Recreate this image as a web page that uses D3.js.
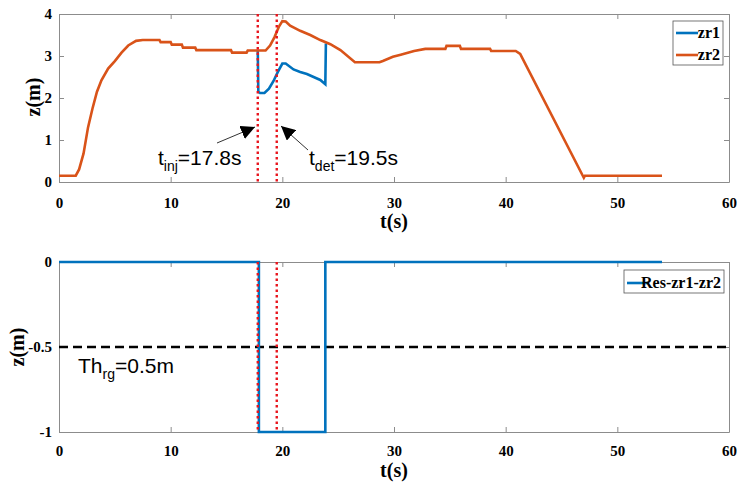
<!DOCTYPE html>
<html>
<head>
<meta charset="utf-8">
<title>zr residual</title>
<style>
  body { margin: 0; background: #fff; }
  .tick text { font-family: "Liberation Serif", "Times New Roman", serif; font-weight: bold; font-size: 15px; fill: #000; }
  .axis path, .axis line { stroke: #8c8c8c; }
  .lab { font-family: "Liberation Serif", "Times New Roman", serif; font-weight: bold; font-size: 20px; }
  .leg { font-family: "Liberation Serif", "Times New Roman", serif; font-weight: bold; font-size: 16px; }
  .ann { font-family: "Liberation Sans", Arial, sans-serif; font-size: 21px; }
</style>
</head>
<body>
<script src="https://cdnjs.cloudflare.com/ajax/libs/d3/7.8.5/d3.min.js"></script>
<script>
// data
var tZr2 = [0,1.5,1.8,2.2,2.6,3.0,3.4,3.8,4.4,5.0,5.6,6.2,6.9,7.5,9.0,9.1,10.0,10.1,11.0,11.1,12.2,12.3,15.4,15.5,16.8,16.9,18.5,18.9,19.3,19.7,20.0,20.3,20.7,21.6,22.5,23.4,24.3,25.2,26.5,28.7,29.0,29.9,30.6,31.4,31.8,32.8,34.6,34.7,35.9,36.0,38.6,38.7,40.9,41.3,47.0,47.1,54.0];
var zr2  = [0.15,0.15,0.3,0.68,1.3,1.75,2.15,2.42,2.7,2.88,3.08,3.25,3.36,3.38,3.38,3.33,3.33,3.27,3.27,3.2,3.2,3.14,3.14,3.08,3.08,3.13,3.13,3.25,3.45,3.7,3.83,3.82,3.72,3.6,3.5,3.38,3.28,3.14,2.85,2.85,2.88,2.98,3.03,3.09,3.12,3.17,3.17,3.24,3.24,3.17,3.17,3.12,3.12,3.05,0.1,0.15,0.15];
var tZr1 = [17.8,17.85,18.0,18.4,18.8,19.2,19.6,20.0,20.3,21.0,21.6,22.2,22.8,23.4,23.85,23.9];
var zr1  = [3.12,2.15,2.12,2.12,2.22,2.4,2.62,2.82,2.82,2.68,2.62,2.57,2.5,2.43,2.33,3.3];
var tRes = [0,17.9,17.9,23.85,23.85,54];
var res  = [0,0,-1,-1,0,0];
var tInj = 17.8, tDet = 19.5, thr = -0.5;
var xTicks = [0,10,20,30,40,50,60];
var yTicksTop = [0,1,2,3,4];
var yTicksBot = [0,-0.5,-1];

var W = 737, H = 489;
var blue = '#0072bd', orange = '#d95319';
var svg = d3.select('body').append('svg').attr('width',W).attr('height',H);

var x = d3.scaleLinear().domain([0,60]).range([59,729]);
var yTop = d3.scaleLinear().domain([0,4]).range([182,14]);
var yBot = d3.scaleLinear().domain([-1,0]).range([432,262]);

function pts(ts, vs){ return ts.map(function(t,i){ return [t, vs[i]]; }); }

function frame(y, yt, fmt, xpad){
  var r = y.range();
  svg.append('g').attr('class','axis').attr('transform','translate(0,'+r[0]+')')
    .call(d3.axisBottom(x).tickValues(xTicks).tickSizeInner(-5).tickSizeOuter(0).tickPadding(xpad).tickFormat(d3.format('d')));
  svg.append('g').attr('class','axis').attr('transform','translate(0,'+r[1]+')')
    .call(d3.axisTop(x).tickValues(xTicks).tickSizeInner(-5).tickSizeOuter(0).tickFormat(''));
  svg.append('g').attr('class','axis').attr('transform','translate(59,0)')
    .call(d3.axisLeft(y).tickValues(yt).tickSizeInner(-5).tickSizeOuter(0).tickPadding(7).tickFormat(fmt));
  svg.append('g').attr('class','axis').attr('transform','translate(729,0)')
    .call(d3.axisRight(y).tickValues(yt).tickSizeInner(-5).tickSizeOuter(0).tickFormat(''));
}

//## top plot
frame(yTop, yTicksTop, d3.format('d'), 15);
var lineTop = d3.line().x(function(d){ return x(d[0]); }).y(function(d){ return yTop(d[1]); });
svg.append('path').attr('d', lineTop(pts(tZr1, zr1))).attr('fill','none').attr('stroke',blue).attr('stroke-width',2.6);
svg.append('path').attr('d', lineTop(pts(tZr2, zr2))).attr('fill','none').attr('stroke',orange).attr('stroke-width',2.6);

//## bottom plot
frame(yBot, yTicksBot, function(d){ return String(d); }, 13);
var lineBot = d3.line().x(function(d){ return x(d[0]); }).y(function(d){ return yBot(d[1]); });
svg.append('line').attr('x1',x(0)).attr('x2',x(60)).attr('y1',yBot(thr)).attr('y2',yBot(thr))
  .attr('stroke','#000').attr('stroke-width',2.6).attr('stroke-dasharray','9,5');
svg.append('path').attr('d', lineBot(pts(tRes, res))).attr('fill','none').attr('stroke',blue).attr('stroke-width',2.6);

// red dotted markers in both panels
[yTop, yBot].forEach(function(y){
  var r = y.range();
  [tInj, tDet].forEach(function(t){
    svg.append('line').attr('x1',x(t)).attr('x2',x(t)).attr('y1',r[1]).attr('y2',r[0])
      .attr('stroke','#e8141c').attr('stroke-width',2.4).attr('stroke-dasharray','2.5,3');
  });
});

// axis labels
svg.append('text').attr('class','lab').attr('transform','translate(40,97) rotate(-90)').attr('text-anchor','middle').text('z(m)');
svg.append('text').attr('class','lab').attr('x',394).attr('y',228).attr('text-anchor','middle').text('t(s)');
svg.append('text').attr('class','lab').attr('transform','translate(24,347) rotate(-90)').attr('text-anchor','middle').text('z(m)');
svg.append('text').attr('class','lab').attr('x',394).attr('y',477).attr('text-anchor','middle').text('t(s)');

// annotations
var defs = svg.append('defs');
defs.append('marker').attr('id','ah').attr('viewBox','0 0 10 10').attr('refX',10).attr('refY',5)
  .attr('markerWidth',14).attr('markerHeight',14).attr('markerUnits','userSpaceOnUse').attr('orient','auto')
  .append('path').attr('d','M0,0 L10,5 L0,10 z').attr('fill','#000');
svg.append('line').attr('x1',217).attr('y1',143).attr('x2',255).attr('y2',127)
  .attr('stroke','#333').attr('stroke-width',1).attr('marker-end','url(#ah)');
svg.append('line').attr('x1',308).attr('y1',150).attr('x2',281).attr('y2',126)
  .attr('stroke','#333').attr('stroke-width',1).attr('marker-end','url(#ah)');

function subText(xp, yp, main, sub, rest){
  var t = svg.append('text').attr('class','ann').attr('x',xp).attr('y',yp);
  t.append('tspan').text(main);
  t.append('tspan').attr('dy',6).attr('font-size',14).text(sub);
  t.append('tspan').attr('dy',-6).text(rest);
}
subText(158, 165, 't', 'inj', '=17.8s');
subText(309, 165, 't', 'det', '=19.5s');
subText(78, 373, 'Th', 'rg', '=0.5m');

// legends
var lg1 = svg.append('g');
lg1.append('rect').attr('x',673).attr('y',21).attr('width',50).attr('height',44).attr('fill','#fff').attr('stroke','#555').attr('stroke-width',0.8);
[['zr1',blue,33],['zr2',orange,55]].forEach(function(e){
  lg1.append('line').attr('x1',676).attr('x2',698).attr('y1',e[2]).attr('y2',e[2]).attr('stroke',e[1]).attr('stroke-width',2.6);
  lg1.append('text').attr('class','leg').attr('x',720).attr('y',e[2]+5).attr('text-anchor','end').text(e[0]);
});
var lg2 = svg.append('g');
lg2.append('rect').attr('x',624).attr('y',270).attr('width',100).attr('height',23).attr('fill','#fff').attr('stroke','#555').attr('stroke-width',0.8);
lg2.append('line').attr('x1',627).attr('x2',649).attr('y1',283).attr('y2',283).attr('stroke',blue).attr('stroke-width',2.6);
lg2.append('text').attr('class','leg').attr('x',721).attr('y',288).attr('text-anchor','end').text('Res-zr1-zr2');
</script>
</body>
</html>
